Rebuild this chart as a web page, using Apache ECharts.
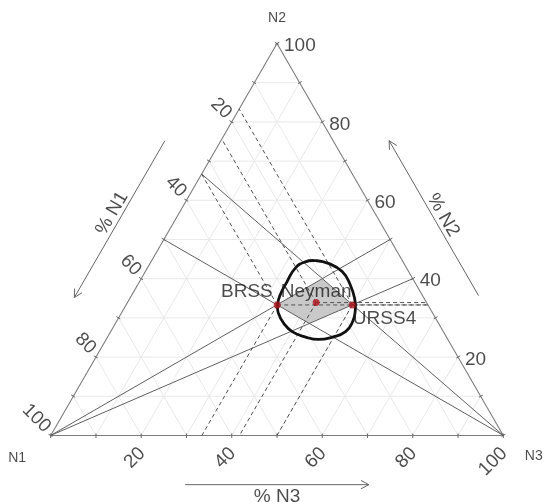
<!DOCTYPE html>
<html>
<head>
<meta charset="utf-8">
<script src="https://cdn.jsdelivr.net/npm/echarts@6/dist/echarts.min.js"></script>
<style>
  html, body { margin: 0; padding: 0; background: #fff; }
  #chart { width: 547px; height: 502px; }
</style>
</head>
<body>
<div id="chart"></div>
<script>
// ---- data -------------------------------------------------------------
// Components at the corners of the simplex
const vertexNames = ['N1', 'N2', 'N3'];
const axisTitles = ['% N1', '% N2', '% N3'];
const tickLabels = [20, 40, 60, 80, 100];

// Allocations (percent of N1, N2, N3)
const pointNames = ['BRSS', 'Neyman', 'URSS4'];
const pointN1 = [33.3, 24.4, 16.7];
const pointN2 = [33.3, 33.9, 33.3];
const pointN3 = [33.4, 41.7, 50.0];

// Rays from the N1 corner, given by their N2 share where they meet the N2-N3 edge
const raysFromN1 = [50, 40];
// Rays from the N3 corner, given by their N2 share where they meet the N1-N2 edge
const raysFromN3 = [50, 66.7];

// Outline of the confidence region (percent of N1, N2, N3)
const regionN1 = [28.2, 24.6, 21.6, 19.2, 16.7, 14.7, 14.6, 15.5, 16.7, 18.8, 21.6, 25.2, 28.6, 31.1, 33.4, 34.2, 34.1, 33.2, 31.6];
const regionN2 = [39.2, 42.7, 44.3, 44.6, 43.9, 41.8, 38.4, 34.6, 32.0, 29.0, 26.5, 25.1, 24.5, 25.1, 26.5, 28.6, 31.2, 33.3, 35.6];
const regionN3 = [32.6, 32.7, 34.1, 36.2, 39.4, 43.5, 47.0, 49.9, 51.3, 52.2, 51.9, 49.7, 46.9, 43.8, 40.1, 37.2, 34.7, 33.5, 32.8];

// ---- layout -----------------------------------------------------------
const SQ3 = Math.sqrt(3);
const FRAME = { left: 50.7, top: 43.5, side: 452.6 };
const PXU = FRAME.side / 100;          // pixels per percentage point
const FONT = 'Liberation Sans, Arial, sans-serif';

// ternary (N1, N2, N3) -> plane coordinates of the value axes
function xy(n1, n2, n3) {
  const s = n1 + n2 + n3;
  const b = n2 * 100 / s, c = n3 * 100 / s;
  return [c + b / 2, b * SQ3 / 2];
}
// move a plane point by a screen offset given in pixels
function shift(p, dx, dy) { return [p[0] + dx / PXU, p[1] - dy / PXU]; }
function along(a, b, t) { return [a[0] + (b[0] - a[0]) * t, a[1] + (b[1] - a[1]) * t]; }

const V1 = xy(100, 0, 0), V2 = xy(0, 100, 0), V3 = xy(0, 0, 100);

// ---- series helpers ---------------------------------------------------
function segmentSeries(segs, style, z) {
  return {
    type: 'custom', coordinateSystem: 'cartesian2d', clip: false, silent: true, z: z,
    data: segs.map(s => [s[0][0], s[0][1], s[1][0], s[1][1]]),
    renderItem: (params, api) => {
      const a = api.coord([api.value(0), api.value(1)]);
      const b = api.coord([api.value(2), api.value(3)]);
      return { type: 'line', shape: { x1: a[0], y1: a[1], x2: b[0], y2: b[1] },
               style: Object.assign({ fill: null }, style) };
    }
  };
}
function polygonSeries(pts, style, smooth, z) {
  return {
    type: 'custom', coordinateSystem: 'cartesian2d', clip: false, silent: true, z: z,
    data: pts,
    renderItem: (params, api) => {
      if (params.dataIndex !== 0) return null;
      return { type: 'polygon', shape: { points: pts.map(p => api.coord(p)), smooth: smooth }, style: style };
    }
  };
}
function textSeries(items, size, z) {
  return {
    type: 'scatter', clip: false, silent: true, symbolSize: 0, z: z,
    data: items.map(it => ({
      value: it.pos,
      label: {
        show: true, position: 'inside', formatter: String(it.text),
        rotate: it.rotate || 0, align: it.align || 'center', verticalAlign: 'middle',
        fontFamily: FONT, fontSize: size, color: '#1e1e1e'
      }
    }))
  };
}

// ---- geometry built from the data --------------------------------------
const gridSegs = [];
for (let v = 10; v < 100; v += 10) {
  gridSegs.push([xy(v, 100 - v, 0), xy(v, 0, 100 - v)]);
  gridSegs.push([xy(100 - v, v, 0), xy(0, v, 100 - v)]);
  gridSegs.push([xy(100 - v, 0, v), xy(0, 100 - v, v)]);
}
const edgeSegs = [[V1, V2], [V2, V3], [V3, V1]];

// small tick marks every 10 % across each edge
const tickSegs = [];
const nLeft = [-SQ3 / 2, 0.5], nRight = [SQ3 / 2, 0.5], nBottom = [0, -1];
function tickAt(p, n) {
  tickSegs.push([[p[0] - n[0] * 2 / PXU, p[1] - n[1] * 2 / PXU], [p[0] + n[0] * 2.5 / PXU, p[1] + n[1] * 2.5 / PXU]]);
}
for (let v = 0; v <= 100; v += 10) {
  tickAt(xy(v, 100 - v, 0), nLeft);
  tickAt(xy(0, v, 100 - v), nRight);
  tickAt(xy(100 - v, 0, v), nBottom);
}

const raySegs = [];
raysFromN1.forEach(b => raySegs.push([V1, xy(0, b, 100 - b)]));
raysFromN3.forEach(b => raySegs.push([V3, xy(100 - b, b, 0)]));

// projection of each allocation onto the three edges
const dashSegs = [];
pointNames.forEach((_, i) => {
  const a = pointN1[i], b = pointN2[i], c = pointN3[i];
  const p = xy(a, b, c);
  dashSegs.push([p, xy(a, 100 - a, 0)]);
  dashSegs.push([p, xy(0, b, 100 - b)]);
  dashSegs.push([p, xy(100 - c, 0, c)]);
});

// region between the rays: corners are the crossings of the two ray pairs
function crossing(rN1, rN3) {
  const r = rN1 / 100;                  // N2 / (N2 + N3)
  const s = rN3 / 100;                  // N2 / (N1 + N2)
  const b = 1 / (1 + (1 - r) / r + (1 - s) / s);
  return xy(b * (1 - s) / s, b, b * (1 - r) / r);
}
const wedge = [
  crossing(raysFromN1[0], raysFromN3[0]),
  crossing(raysFromN1[0], raysFromN3[1]),
  crossing(raysFromN1[1], raysFromN3[1]),
  crossing(raysFromN1[1], raysFromN3[0])
];

const regionPts = regionN1.map((a, i) => xy(a, regionN2[i], regionN3[i]));
const pointPts = pointNames.map((_, i) => xy(pointN1[i], pointN2[i], pointN3[i]));

// direction arrows beside each edge
const arrowSegs = [];
function arrow(from, to, n, off) {
  const a = [from[0] + n[0] * off / PXU, from[1] + n[1] * off / PXU];
  const b = [to[0] + n[0] * off / PXU, to[1] + n[1] * off / PXU];
  arrowSegs.push([a, b]);
  const dx = a[0] - b[0], dy = a[1] - b[1], L = Math.hypot(dx, dy);
  const ux = dx / L, uy = dy / L, h = 9 / PXU, ang = 28 * Math.PI / 180;
  [ang, -ang].forEach(t => {
    const rx = ux * Math.cos(t) - uy * Math.sin(t), ry = ux * Math.sin(t) + uy * Math.cos(t);
    arrowSegs.push([b, [b[0] + rx * h, b[1] + ry * h]]);
  });
}
arrow(along(V2, V1, 0.31), along(V2, V1, 0.71), nLeft, 48.5);
arrow(along(V2, V3, 0.705), along(V2, V3, 0.31), nRight, 48.5);
arrow(along(V1, V3, 0.297), along(V1, V3, 0.703), nBottom, 49.2);

// ---- text items ---------------------------------------------------------
const tickTextItems = [];
tickLabels.forEach(t => {
  tickTextItems.push({ pos: shift(xy(100 - t, 0, t), 1, 15), text: t, rotate: 45, align: 'right' });
  tickTextItems.push({ pos: shift(xy(t, 100 - t, 0), -3, -6), text: t, rotate: -45, align: 'right' });
  tickTextItems.push({ pos: shift(xy(0, t, 100 - t), 7, 2.5), text: t, rotate: 0, align: 'left' });
});
const titleItems = [
  { pos: (p => [p[0] + nLeft[0] * 58 / PXU, p[1] + nLeft[1] * 58 / PXU])(along(V2, V1, 0.507)), text: axisTitles[0], rotate: 60 },
  { pos: (p => [p[0] + nRight[0] * 58 / PXU, p[1] + nRight[1] * 58 / PXU])(along(V2, V3, 0.512)), text: axisTitles[1], rotate: -60 },
  { pos: shift(along(V1, V3, 0.5), 0, 61.5), text: axisTitles[2], rotate: 0 }
];
const vertexItems = [
  { pos: shift(V1, -33.5, 22.5), text: vertexNames[0] },
  { pos: shift(V2, 0, -25.5), text: vertexNames[1] },
  { pos: shift(V3, 30.5, 21), text: vertexNames[2] }
];
const pointLabelPlace = [
  { dx: -4.5, dy: -13.5, align: 'right' },
  { dx: 0, dy: -11, align: 'center' },
  { dx: 0.5, dy: 14, align: 'left' }
];
const pointTextItems = pointNames.map((name, i) => ({
  pos: shift(pointPts[i], pointLabelPlace[i].dx, pointLabelPlace[i].dy), text: name, align: pointLabelPlace[i].align
}));

// ---- chart ----------------------------------------------------------------
const chart = echarts.init(document.getElementById('chart'), null, { renderer: 'canvas' });
chart.setOption({
  backgroundColor: '#fff',
  animation: false,
  grid: { left: FRAME.left, top: FRAME.top, width: FRAME.side, height: FRAME.side * SQ3 / 2,
          containLabel: false, outerBoundsMode: 'none' },
  xAxis: { type: 'value', min: 0, max: 100, show: false },
  yAxis: { type: 'value', min: 0, max: 50 * SQ3, show: false },
  series: [
    segmentSeries(gridSegs, { stroke: '#e9e9e9', lineWidth: 1 }, 1),
    polygonSeries(wedge, { fill: '#c9c9c9', stroke: null }, 0, 2),
    segmentSeries(edgeSegs, { stroke: '#7c7c7c', lineWidth: 1.1 }, 3),
    segmentSeries(tickSegs, { stroke: '#666', lineWidth: 1 }, 3),
    segmentSeries(raySegs, { stroke: '#606060', lineWidth: 1 }, 3),
    segmentSeries(dashSegs, { stroke: '#505050', lineWidth: 1, lineDash: [4, 3] }, 4),
    polygonSeries(regionPts, { fill: null, stroke: '#111', lineWidth: 2.8 }, 0.5, 5),
    {
      type: 'scatter', clip: false, silent: true, z: 6,
      symbol: 'circle', symbolSize: 7, itemStyle: { color: '#b0141c' },
      data: pointPts
    },
    segmentSeries(arrowSegs, { stroke: '#666', lineWidth: 1 }, 3),
    textSeries(tickTextItems, 19, 7),
    textSeries(titleItems, 19, 7),
    textSeries(vertexItems, 14, 7),
    textSeries(pointTextItems, 19, 8)
  ]
});
</script>
</body>
</html>
